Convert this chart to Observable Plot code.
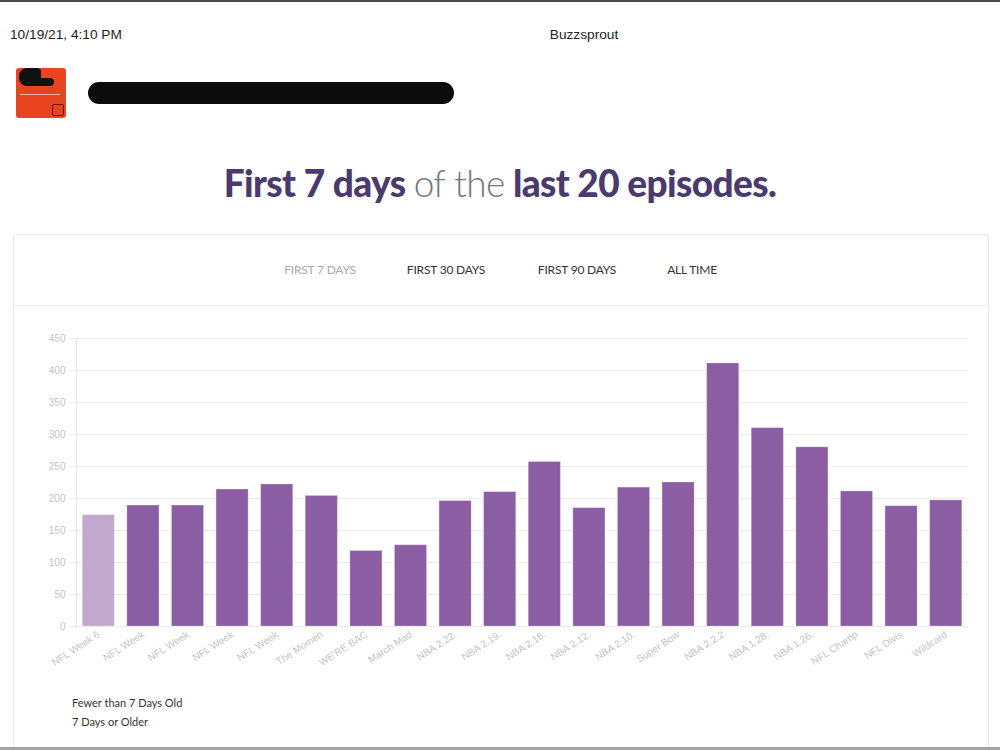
<!DOCTYPE html>
<html><head><meta charset="utf-8">
<script src="https://cdn.jsdelivr.net/npm/d3@7"></script>
<script src="https://cdn.jsdelivr.net/npm/@observablehq/plot@0.6"></script>
<style>
body{margin:0;background:#fff;}
#page{position:relative;width:1000px;height:750px;overflow:hidden;font-family:Lato,"Open Sans",sans-serif;background:#fff;}
.abs{position:absolute;}
#topbar{left:0;top:0;width:1000px;height:2px;background:#4a4a4a;}
#botbar{left:0;top:747px;width:1000px;height:3px;background:#a0a4a4;}
#stamp{left:10px;top:27px;font:13.7px "Liberation Sans",Arial,sans-serif;color:#222;}
#site{left:0;width:1168px;top:27px;text-align:center;font:13.7px "Liberation Sans",Arial,sans-serif;color:#222;}
#logo{left:16px;top:68px;width:50px;height:50px;background:#e8441f;border-radius:3px;}
#logo .blob{position:absolute;left:3px;top:0;width:22px;height:18px;background:#111;border-radius:8px 4px 8px 8px;}
#logo .blob2{position:absolute;left:8px;top:10px;width:30px;height:8px;background:#111;border-radius:4px;}
#logo .line{position:absolute;left:4px;top:26px;width:40px;height:1px;background:#f7b6a6;}
#logo .icon{position:absolute;left:36px;top:36px;width:10px;height:10px;border:1px solid #5a1208;border-radius:2px;}
#redact{left:88px;top:82px;width:366px;height:22px;background:#0c0c0c;border-radius:11px;}
#title{left:0;width:1000px;top:160px;text-align:center;font-size:37px;font-weight:900;color:#4b3a6e;letter-spacing:-0.6px;}
#title .thin{font-weight:300;color:#777;}
#card{left:13px;top:234px;width:974px;height:530px;border:1px solid #e6e6e6;border-radius:3px;}
#sep{left:14px;top:305px;width:974px;height:1px;background:#ededed;}
.tab{top:262px;font-size:12px;color:#333;letter-spacing:-0.2px;transform:translateX(-50%);white-space:nowrap;}
.tab.off{color:#aaa;}
.leg{left:72px;font-size:11px;color:#333;}
#chart{left:0;top:330px;}
</style></head>
<body><div id="page">
<div class="abs" id="topbar"></div>
<div class="abs" id="stamp">10/19/21, 4:10 PM</div>
<div class="abs" id="site">Buzzsprout</div>
<div class="abs" id="logo"><div class="blob"></div><div class="blob2"></div><div class="line"></div><div class="icon"></div></div>
<div class="abs" id="redact"></div>
<div class="abs" id="title">First 7 days <span class="thin">of the</span> last 20 episodes.</div>
<div class="abs" id="card"></div>
<div class="abs" id="sep"></div>
<div class="abs tab off" style="left:320px">FIRST 7 DAYS</div>
<div class="abs tab" style="left:446px">FIRST 30 DAYS</div>
<div class="abs tab" style="left:577px">FIRST 90 DAYS</div>
<div class="abs tab" style="left:692px">ALL TIME</div>
<div class="abs" id="chart"></div>
<div class="abs leg" style="top:696px">Fewer than 7 Days Old</div>
<div class="abs leg" style="top:715px">7 Days or Older</div>
<div class="abs" id="botbar"></div>
</div>
<script>
const episodes = ["NFL Week 6","NFL Week","NFL Week","NFL Week","NFL Week","The Momen","WE'RE BAC","March Mad","NBA 2.22.","NBA 2.19.","NBA 2.16.","NBA 2.12.","NBA 2.10.","Super Bow","NBA 2.2.2","NBA 1.28.","NBA 1.26.","NFL Champ","NFL Divis","Wildcard"];
const downloads = [174,189,189,214,222,204,118,127,196,210,257,185,217,225,411,310,280,211,188,197];
const ageGroup = ["Fewer than 7 Days Old","7 Days or Older","7 Days or Older","7 Days or Older","7 Days or Older","7 Days or Older","7 Days or Older","7 Days or Older","7 Days or Older","7 Days or Older","7 Days or Older","7 Days or Older","7 Days or Older","7 Days or Older","7 Days or Older","7 Days or Older","7 Days or Older","7 Days or Older","7 Days or Older","7 Days or Older"];
const ageLabels = ["Fewer than 7 Days Old","7 Days or Older"];
const ageColors = ["#c3a8ce","#8b5ea3"];
const yTicks = [0,50,100,150,200,250,300,350,400,450];

const data = episodes.map((e,i)=>({idx:i, episode:e, downloads:downloads[i], age:ageGroup[i]}));

const chart = Plot.plot({
  width:1000, height:358,
  marginLeft:76, marginRight:32, marginTop:8, marginBottom:62,
  style:{fontFamily:"'Liberation Sans',Arial,sans-serif", fontSize:"10px", color:"#c4c4c4", background:"transparent", overflow:"visible"},
  x:{type:"band", domain:d3.range(episodes.length), paddingInner:0.28, paddingOuter:0.14, round:false, label:null},
  y:{domain:[0,450], label:null},
  color:{domain:ageLabels, range:ageColors},
  marks:[
    Plot.gridY(yTicks,{stroke:"#ececec", strokeOpacity:1}),
    Plot.axisY(yTicks,{tickSize:8, tickPadding:3, stroke:"#ececec", color:"#c4c4c4", label:null}),
    Plot.frame({anchor:"left", stroke:"#e6e6e6"}),
    Plot.barY(data,{x:"idx", y:"downloads", fill:"age", stroke:"#ffffff", strokeOpacity:0.25}),
    Plot.axisX({tickSize:0, tickPadding:7, tickRotate:-33, tickFormat:i=>episodes[i], color:"#c4c4c4", label:null})
  ]
});
document.getElementById("chart").appendChild(chart);
</script>
</body></html>
